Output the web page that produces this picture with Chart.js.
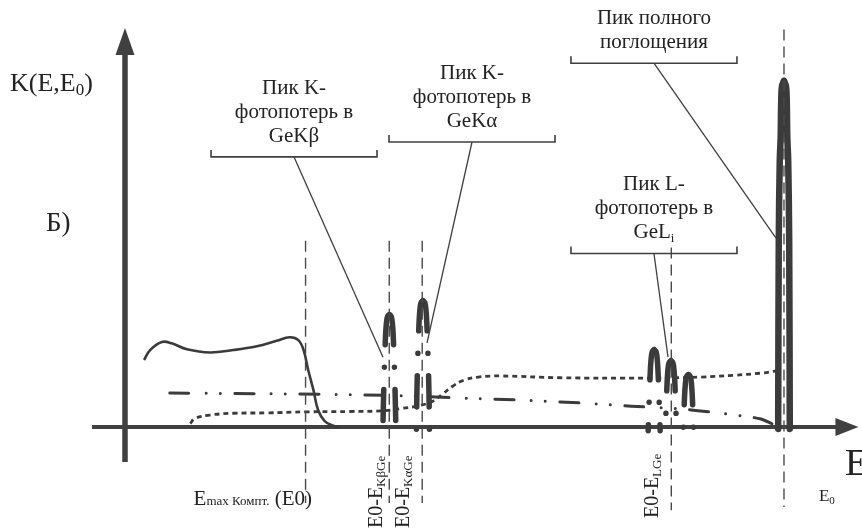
<!DOCTYPE html>
<html>
<head>
<meta charset="utf-8">
<script src="https://cdn.jsdelivr.net/npm/chart.js@4.4.1/dist/chart.umd.min.js"></script>
<style>
  html, body { margin: 0; padding: 0; background: #ffffff; }
  canvas { display: block; }
</style>
</head>
<body>
<canvas id="spectrum" width="862" height="529"></canvas>
<script>
// Detector response K(E,E0) for a Ge detector, energy E in arbitrary units with E0 = 100.

// Compton continuum (up to the Compton edge)
const comptonE = [2.9, 3.8, 5.6, 7.1, 9.4, 12.9, 16.4, 20.0, 23.0, 25.0, 26.3, 27.1, 27.8, 28.6, 29.3, 30.3, 31.6, 32.6];
const comptonK = [1.89, 2.17, 2.40, 2.36, 2.19, 2.10, 2.17, 2.28, 2.43, 2.53, 2.45, 2.17, 1.61, 1.04, 0.48, 0.17, 0.04, 0.0];

// Step-like continuum (dotted)
const stepE = [9.9, 10.6, 12.9, 16.5, 21.5, 27.6, 34.2, 39.3, 41.8, 44.8, 46.7, 48.2, 49.7, 51.4, 53.6, 57.0, 66.1, 79.3, 87.4, 92.4, 96.5, 98.8];
const stepK = [0.10, 0.245, 0.34, 0.39, 0.40, 0.43, 0.44, 0.46, 0.52, 0.61, 0.73, 0.93, 1.15, 1.32, 1.41, 1.44, 1.39, 1.38, 1.41, 1.46, 1.52, 1.58];

// Low-energy tail of the full-absorption peak (dash-dot-dot)
const tailE = [6.8, 20.5, 31.2, 40.3, 49.4, 60.0, 69.2, 76.8, 84.4, 90.4, 94.2, 96.5, 98.0, 99.1];
const tailK = [0.96, 0.94, 0.92, 0.89, 0.83, 0.76, 0.68, 0.59, 0.51, 0.39, 0.30, 0.23, 0.11, 0.0];

// Escape peaks and the full-absorption peak: position and height
const peakNames = ['GeKβ', 'GeKα', 'GeL 1', 'GeL 2', 'GeL 3', 'E0'];
const peakE = [40.12, 45.21, 80.3, 82.85, 85.5, 100];
const peakK = [3.17, 3.56, 2.18, 1.87, 1.48, 9.75];

// Peak outline: depth below the apex and half-width at that depth
const escapeDepth = [0, 0.04, 0.14, 0.42, 0.85, 1.46, 2.54, 3.66];
const escapeHalf  = [0, 0.24, 0.39, 0.53, 0.64, 0.76, 0.91, 0.99];
const mainDepth = [0, 0.14, 0.56, 1.55, 2.25, 4.5, 9.9];
const mainHalf  = [0, 0.30, 0.42, 0.50, 0.64, 0.79, 0.88];

// Reference energies (vertical guides)
const markerNames = ['Emax Компт. (E0)', 'E0-EKβGe', 'E0-EKαGe', 'E0-ELGe', 'E0'];
const markerE = [27.4, 40.1, 45.1, 82.9, 100];
const markerTop = [5.25, 5.25, 5.25, 5.06, 11.2];
const markerBottom = [-2.14, -2.14, -2.14, -2.34, -2.25];

// Callouts
const calloutText = [
  ['Пик K-', 'фотопотерь в', 'GeKβ'],
  ['Пик K-', 'фотопотерь в', 'GeKα'],
  ['Пик L-', 'фотопотерь в', 'GeL_i'],
  ['Пик полного', 'поглощения']
];
const calloutE = [25.65, 52.66, 80.27, 80.27];
const calloutK = [7.61, 8.03, 4.89, 10.25];
const calloutTargetE = [39.15, 45.83, 82.40, 98.79];
const calloutTargetK = [1.97, 2.37, 1.97, 5.32];

const INK = '#3b3b3b';
const TEXT = '#222222';
const FONT = '"Liberation Serif", "Times New Roman", serif';

function pts(xs, ys) { return xs.map((x, i) => ({ x: x, y: ys[i] })); }

// One side of a peak outline, from the apex down to just below the baseline
function peakSide(e, k, side, depth, half, floor) {
  const out = [];
  let i = 0;
  for (; i < depth.length; i++) {
    if (k - depth[i] <= floor) break;
    out.push({ x: e + side * half[i], y: k - depth[i] });
  }
  const h = half[Math.min(i, half.length - 1)];
  out.push({ x: e + side * h, y: floor });
  return out;
}

const datasets = [];

markerE.forEach((e, i) => {
  datasets.push({
    label: markerNames[i],
    data: [{ x: e, y: markerTop[i] }, { x: e, y: markerBottom[i] }],
    showLine: true, borderColor: '#4a4a4a', borderWidth: 1.4,
    borderDash: [11, 6], pointRadius: 0, order: 0
  });
});

peakE.forEach((e, i) => {
  const isMain = i === peakE.length - 1;
  [-1, 1].forEach(side => {
    datasets.push({
      label: peakNames[i],
      data: isMain ? peakSide(e, peakK[i], side, mainDepth, mainHalf, -0.05)
                   : peakSide(e, peakK[i], side, escapeDepth, escapeHalf, -0.1),
      showLine: true, borderColor: INK,
      borderWidth: isMain ? 6.5 : 5.5,
      borderDash: isMain ? [] : [31, 22.5, 0.01, 22.5],
      borderCapStyle: 'round', borderJoinStyle: 'round',
      tension: 0.35, pointRadius: 0, order: 1
    });
  });
});

datasets.push({
  label: 'compton', data: pts(comptonE, comptonK), showLine: true,
  borderColor: INK, borderWidth: 2.6, tension: 0.4, pointRadius: 0, order: 2
});
datasets.push({
  label: 'step', data: pts(stepE, stepK), showLine: true,
  borderColor: INK, borderWidth: 2.8, borderDash: [5, 4], tension: 0.4, pointRadius: 0, order: 2
});
datasets.push({
  label: 'tail', data: pts(tailE, tailK), showLine: true,
  borderColor: INK, borderWidth: 3, borderDash: [19, 17.5, 0.01, 14, 0.01, 14.5],
  borderCapStyle: 'round', tension: 0.3, pointRadius: 0, order: 2
});

// Mixed-size text along a baseline
function richText(ctx, segs, x, y, align) {
  let w = 0;
  segs.forEach(s => { ctx.font = s.size + 'px ' + FONT; s.w = ctx.measureText(s.t).width; w += s.w; });
  let cx = align === 'center' ? x - w / 2 : x;
  segs.forEach(s => {
    ctx.font = s.size + 'px ' + FONT;
    ctx.fillText(s.t, cx, y + (s.dy || 0));
    cx += s.w;
  });
}

function lineSegs(str, size) {
  const parts = str.split('_');
  const segs = [{ t: parts[0], size: size }];
  if (parts[1]) segs.push({ t: parts[1], size: Math.round(size * 0.62), dy: 4 });
  return segs;
}

const decor = {
  id: 'decor',
  beforeDatasetsDraw(chart) {
    const ctx = chart.ctx, xs = chart.scales.x, ys = chart.scales.y;
    const x0 = xs.getPixelForValue(0), y0 = ys.getPixelForValue(0);
    ctx.save();
    ctx.strokeStyle = '#404040';
    ctx.fillStyle = '#404040';
    // vertical axis with arrow
    const yTop = ys.getPixelForValue(11.24);
    ctx.lineWidth = 5.5;
    ctx.beginPath();
    ctx.moveTo(x0, ys.getPixelForValue(-0.98));
    ctx.lineTo(x0, yTop + 26);
    ctx.stroke();
    ctx.beginPath();
    ctx.moveTo(x0, yTop);
    ctx.lineTo(x0 - 9.5, yTop + 27);
    ctx.lineTo(x0 + 9.5, yTop + 27);
    ctx.closePath();
    ctx.fill();
    // horizontal axis with arrow
    const xTip = xs.getPixelForValue(111.3);
    ctx.lineWidth = 4;
    ctx.beginPath();
    ctx.moveTo(xs.getPixelForValue(-5), y0);
    ctx.lineTo(xTip - 22, y0);
    ctx.stroke();
    ctx.beginPath();
    ctx.moveTo(xTip, y0);
    ctx.lineTo(xTip - 23, y0 - 9);
    ctx.lineTo(xTip - 23, y0 + 9);
    ctx.closePath();
    ctx.fill();
    ctx.restore();
  },
  afterDraw(chart) {
    const ctx = chart.ctx, xs = chart.scales.x, ys = chart.scales.y;
    ctx.save();
    ctx.textAlign = 'left';
    ctx.textBaseline = 'alphabetic';

    // callouts: text, bracket, leader
    calloutText.forEach((lines, i) => {
      const cx = xs.getPixelForValue(calloutE[i]);
      const by = ys.getPixelForValue(calloutK[i]);
      const tx = xs.getPixelForValue(calloutTargetE[i]);
      const ty = ys.getPixelForValue(calloutTargetK[i]);
      ctx.strokeStyle = '#3f3f3f';
      ctx.lineWidth = 1.6;
      ctx.beginPath();
      ctx.moveTo(cx - 83, by - 7);
      ctx.lineTo(cx - 83, by);
      ctx.lineTo(cx + 83, by);
      ctx.lineTo(cx + 83, by - 7);
      ctx.stroke();
      ctx.lineWidth = 1.3;
      ctx.beginPath();
      ctx.moveTo(cx, by);
      ctx.lineTo(tx, ty);
      ctx.stroke();
      ctx.fillStyle = TEXT;
      const n = lines.length;
      lines.forEach((ln, j) => {
        richText(ctx, lineSegs(ln, 21), cx, by - 15 - (n - 1 - j) * 24, 'center');
      });
    });

    ctx.fillStyle = TEXT;
    // axis titles
    richText(ctx, [{ t: 'K(E,E', size: 26 }, { t: '0', size: 17, dy: 4 }, { t: ')', size: 26 }], 10, 91, 'left');
    richText(ctx, [{ t: 'Б)', size: 27 }], 46, 231, 'left');
    richText(ctx, [{ t: 'E', size: 38 }], 845, 475, 'left');

    // labels of the reference energies
    const m0 = xs.getPixelForValue(markerE[0]);
    richText(ctx, [{ t: 'E', size: 21 }, { t: 'max Компт.', size: 13 }, { t: ' (E0)', size: 21 }], m0 - 112, 505, 'left');
    const m4 = xs.getPixelForValue(markerE[4]);
    richText(ctx, [{ t: 'E', size: 17 }, { t: '0', size: 11, dy: 3 }], m4 + 35, 501, 'left');

    const rotated = [
      { i: 1, main: 'E0-E', sub: 'KβGe', dx: -7, y: 528 },
      { i: 2, main: 'E0-E', sub: 'KαGe', dx: -13, y: 528 },
      { i: 3, main: 'E0-E', sub: 'LGe', dx: -13, y: 518 }
    ];
    rotated.forEach(r => {
      const px = xs.getPixelForValue(markerE[r.i]) + r.dx;
      ctx.save();
      ctx.translate(px, r.y);
      ctx.rotate(-Math.PI / 2);
      richText(ctx, [{ t: r.main, size: 20 }, { t: r.sub, size: 13, dy: 3 }], 0, 0, 'left');
      ctx.restore();
    });
    ctx.restore();
  }
};

new Chart(document.getElementById('spectrum'), {
  type: 'scatter',
  data: { datasets: datasets },
  options: {
    responsive: false,
    animation: false,
    devicePixelRatio: 1,
    layout: { padding: 0 },
    plugins: { legend: { display: false }, tooltip: { enabled: false } },
    elements: { point: { radius: 0 }, line: { fill: false } },
    scales: {
      x: { type: 'linear', min: -18.97, max: 111.84, display: false },
      y: { type: 'linear', min: -2.87, max: 12.03, display: false }
    }
  },
  plugins: [decor]
});
</script>
</body>
</html>
